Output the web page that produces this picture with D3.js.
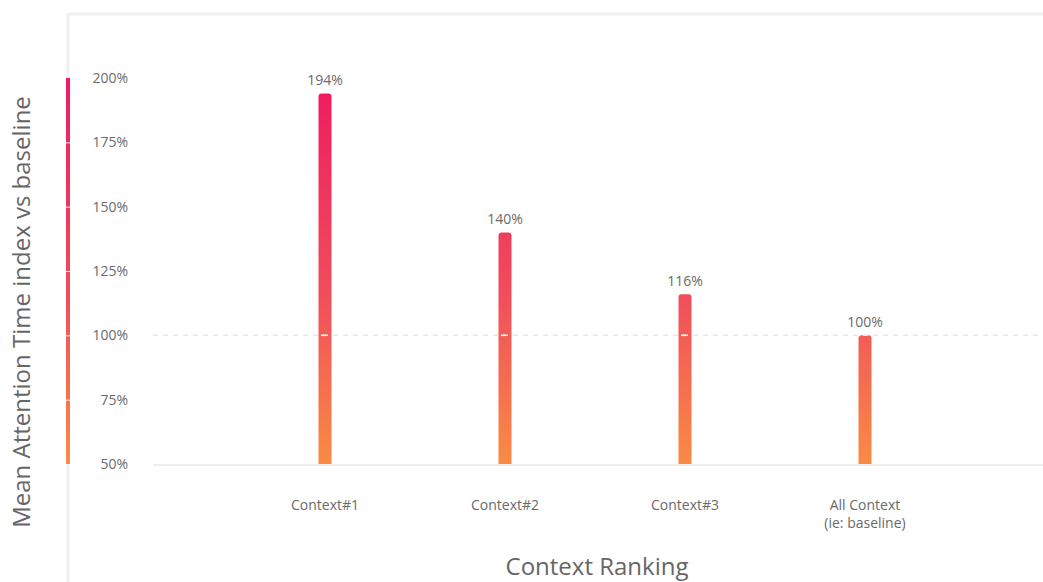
<!DOCTYPE html>
<html>
<head>
<meta charset="utf-8">
<script src="https://cdn.jsdelivr.net/npm/d3@7"></script>
<style>
  body { margin: 0; background: #fff; }
  svg { display: block; font-family: "Open Sans", Lato, sans-serif; }
</style>
</head>
<body>
<svg id="chart" width="1043" height="582"></svg>
<script>
const categories = ['Context#1', 'Context#2', 'Context#3', 'All Context\n(ie: baseline)'];
const values = [194, 140, 116, 100];
const yTicks = [50, 75, 100, 125, 150, 175, 200];
const baselineValue = 100;

const width = 1043, height = 582;
const margin = { top: 78, bottom: 118, left: 153, right: 0 };
const svg = d3.select('svg#chart');
const font = '"Open Sans", Lato, sans-serif';

const x = d3.scalePoint()
  .domain(categories)
  .range([325, 865]);

const y = d3.scaleLinear()
  .domain([50, 200])
  .range([height - margin.bottom, margin.top]);

// gradient tied to the value scale (pink at top, orange at bottom)
const defs = svg.append('defs');
const grad = defs.append('linearGradient')
  .attr('id', 'barGrad')
  .attr('gradientUnits', 'userSpaceOnUse')
  .attr('x1', 0).attr('x2', 0)
  .attr('y1', y(200)).attr('y2', y(50));
grad.append('stop').attr('offset', '0%').attr('stop-color', '#ef1a60');
grad.append('stop').attr('offset', '55%').attr('stop-color', '#f04c5c');
grad.append('stop').attr('offset', '100%').attr('stop-color', '#f98b45');

// frame lines
svg.append('line')
  .attr('x1', 67).attr('x2', width)
  .attr('y1', 14).attr('y2', 14)
  .attr('stroke', '#f0f0f0').attr('stroke-width', 3);
svg.append('line')
  .attr('x1', 68).attr('x2', 68)
  .attr('y1', 13).attr('y2', height)
  .attr('stroke', '#f0f0f0').attr('stroke-width', 3);

// colour legend bar on the left, split at each tick
const segs = d3.pairs(yTicks);
svg.append('g').selectAll('rect')
  .data(segs)
  .join('rect')
  .attr('x', 66)
  .attr('width', 4)
  .attr('y', d => y(d[1]) + (d[1] === 200 ? 0 : 1))
  .attr('height', d => y(d[0]) - y(d[1]) - (d[1] === 200 ? 0 : 1))
  .attr('fill', 'url(#barGrad)');

// y tick labels
const yAxis = svg.append('g')
  .attr('transform', 'translate(128,0)')
  .call(d3.axisLeft(y).tickValues(yTicks).tickSize(0).tickPadding(0).tickFormat(d => d + '%'));
yAxis.select('.domain').remove();
yAxis.selectAll('text')
  .attr('fill', '#6a6a6a')
  .attr('font-size', 14)
  .attr('font-family', font);

// baseline axis line
svg.append('line')
  .attr('x1', margin.left).attr('x2', width)
  .attr('y1', y(50) + 1).attr('y2', y(50) + 1)
  .attr('stroke', '#eeeeee').attr('stroke-width', 2);

// bars
const barW = 13;
svg.append('g').selectAll('path')
  .data(values)
  .join('path')
  .attr('d', (d, i) => {
    const cx = x(categories[i]);
    const x0 = cx - barW / 2, x1 = cx + barW / 2;
    const top = y(d), bot = y(50);
    const r = 3;
    return `M${x0},${bot}V${top + r}Q${x0},${top} ${x0 + r},${top}H${x1 - r}Q${x1},${top} ${x1},${top + r}V${bot}Z`;
  })
  .attr('fill', 'url(#barGrad)');

// dashed baseline at 100%
svg.append('line')
  .attr('x1', margin.left).attr('x2', width)
  .attr('y1', y(baselineValue)).attr('y2', y(baselineValue))
  .attr('stroke', '#e8e8e8').attr('stroke-width', 1.5)
  .attr('stroke-dasharray', '5,5');
svg.append('g').selectAll('line')
  .data(values.filter(v => v > baselineValue))
  .join('line')
  .attr('x1', (d, i) => x(categories[i]) - 4)
  .attr('x2', (d, i) => x(categories[i]) + 4)
  .attr('y1', y(baselineValue)).attr('y2', y(baselineValue))
  .attr('stroke', '#fff').attr('stroke-width', 1.5)
  .attr('stroke-dasharray', '5,5');

// value labels
svg.append('g').selectAll('text')
  .data(values)
  .join('text')
  .attr('x', (d, i) => x(categories[i]))
  .attr('y', d => y(d) - 8)
  .attr('text-anchor', 'middle')
  .attr('fill', '#6a6a6a')
  .attr('font-size', 14)
  .text(d => d + '%');

// category labels
const catG = svg.append('g').selectAll('text')
  .data(categories)
  .join('text')
  .attr('x', d => x(d))
  .attr('y', 510)
  .attr('text-anchor', 'middle')
  .attr('fill', '#6a6a6a')
  .attr('font-size', 14);
catG.selectAll('tspan')
  .data(d => d.split('\n'))
  .join('tspan')
  .attr('x', function () { return d3.select(this.parentNode).attr('x'); })
  .attr('dy', (d, i) => i === 0 ? 0 : 18)
  .text(d => d);

// axis titles
svg.append('text')
  .attr('x', 597).attr('y', 575)
  .attr('text-anchor', 'middle')
  .attr('fill', '#666')
  .attr('font-size', 24)
  .text('Context Ranking');

svg.append('text')
  .attr('transform', 'translate(30,312) rotate(-90)')
  .attr('text-anchor', 'middle')
  .attr('fill', '#666')
  .attr('font-size', 24)
  .text('Mean Attention Time index vs baseline');
</script>
</body>
</html>
